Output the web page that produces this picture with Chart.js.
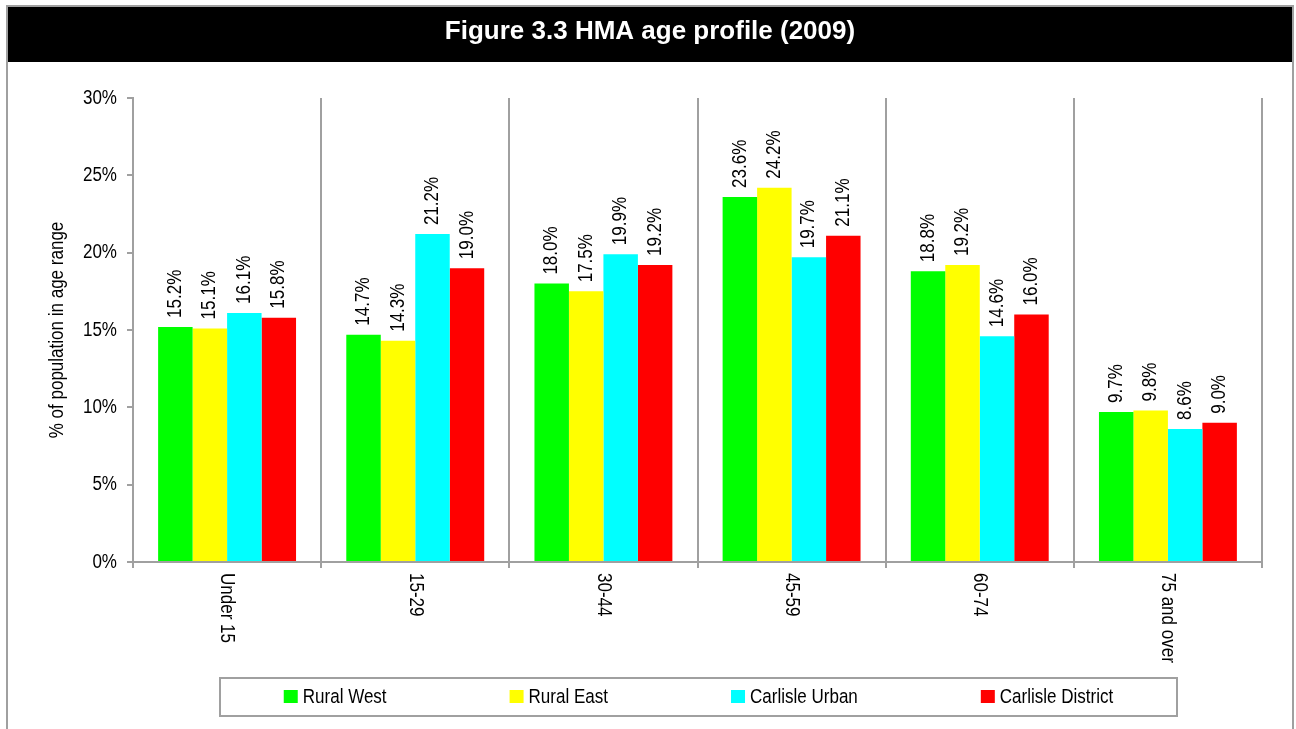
<!DOCTYPE html>
<html>
<head>
<meta charset="utf-8">
<script src="https://cdn.jsdelivr.net/npm/chart.js@4"></script>
<style>
  html, body { margin: 0; padding: 0; background: #fff; }
  canvas { display: block; }
</style>
</head>
<body>
<canvas id="chart" width="1296" height="729"></canvas>
<script>
// age bands and % of population per area (2009)
const categories = ['Under 15', '15-29', '30-44', '45-59', '60-74', '75 and over'];
const ruralWest = [15.2, 14.7, 18.0, 23.6, 18.8, 9.7];
const ruralEast = [15.1, 14.3, 17.5, 24.2, 19.2, 9.8];
const carlisleUrban = [16.1, 21.2, 19.9, 19.7, 14.6, 8.6];
const carlisleDistrict = [15.8, 19.0, 19.2, 21.1, 16.0, 9.0];
const seriesNames = ['Rural West', 'Rural East', 'Carlisle Urban', 'Carlisle District'];
const seriesColors = ['#00ff00', '#ffff00', '#00ffff', '#ff0000'];
const yMin = 0, yMax = 30, yStep = 5;
const titleText = 'Figure 3.3 HMA age profile (2009)';
const yTitle = '% of population in age range';

const GREY = '#a0a0a0';
const FONT = '"Liberation Sans", Arial, sans-serif';
// original text is tall and narrow: big size squeezed sideways
const FSIZE = 20.5;
const SQUEEZE = 0.83;

// draw text squeezed along its own direction
function narrowText(ctx, text, x, y, rot, align) {
  ctx.save();
  ctx.translate(x, y);
  if (rot) ctx.rotate(rot);
  ctx.scale(SQUEEZE, 1);
  ctx.textAlign = align;
  ctx.textBaseline = 'middle';
  ctx.fillText(text, 0, 0);
  ctx.restore();
}

const decorations = {
  id: 'decorations',
  beforeDraw(chart) {
    const ctx = chart.ctx;
    ctx.save();
    ctx.fillStyle = '#fff';
    ctx.fillRect(0, 0, chart.width, chart.height);
    ctx.strokeStyle = GREY;
    ctx.lineWidth = 2;
    ctx.strokeRect(7, 6, 1286, 760);
    ctx.fillStyle = '#000';
    ctx.fillRect(8, 7, 1284, 55);
    ctx.fillStyle = '#fff';
    ctx.font = 'bold 26px ' + FONT;
    ctx.textAlign = 'center';
    ctx.textBaseline = 'alphabetic';
    ctx.fillText(titleText, 650, 39);
    ctx.restore();
  },
  afterDatasetsDraw(chart) {
    // value labels above bars
    const ctx = chart.ctx;
    ctx.save();
    ctx.fillStyle = '#000';
    ctx.font = FSIZE + 'px ' + FONT;
    chart.data.datasets.forEach((ds, di) => {
      chart.getDatasetMeta(di).data.forEach((bar, i) => {
        narrowText(ctx, ds.data[i].toFixed(1) + '%', bar.x, bar.y - 9, -Math.PI / 2, 'left');
      });
    });
    ctx.restore();
  },
  afterDraw(chart) {
    const ctx = chart.ctx;
    const xs = chart.scales.x;
    const ys = chart.scales.y;
    const area = chart.chartArea;
    ctx.save();
    ctx.fillStyle = '#000';
    ctx.font = FSIZE + 'px ' + FONT;

    // y tick labels
    ys.ticks.forEach(t => {
      narrowText(ctx, t.value + '%', area.left - 16, ys.getPixelForValue(t.value), 0, 'right');
    });

    // category labels reading top to bottom
    categories.forEach((c, i) => {
      narrowText(ctx, c, xs.getPixelForValue(i), area.bottom + 11, Math.PI / 2, 'left');
    });

    // y axis title
    narrowText(ctx, yTitle, 57, (area.top + area.bottom) / 2, -Math.PI / 2, 'center');

    // legend box
    const bx = 220, by = 678, bw = 957, bh = 38;
    ctx.strokeStyle = GREY;
    ctx.lineWidth = 2;
    ctx.strokeRect(bx, by, bw, bh);
    const sq = 14, gapText = 5, gapItem = 123;
    const widths = seriesNames.map(n => sq + gapText + ctx.measureText(n).width * SQUEEZE);
    const total = widths.reduce((a, b) => a + b, 0) + gapItem * (seriesNames.length - 1);
    let x = bx + (bw - total) / 2;
    const cy = by + bh / 2;
    seriesNames.forEach((n, i) => {
      ctx.fillStyle = seriesColors[i];
      ctx.fillRect(x, cy - 7, sq, 13);
      ctx.fillStyle = '#000';
      narrowText(ctx, n, x + sq + gapText, cy, 0, 'left');
      x += widths[i] + gapItem;
    });
    ctx.restore();
  }
};

const seriesData = [ruralWest, ruralEast, carlisleUrban, carlisleDistrict];

new Chart(document.getElementById('chart'), {
  type: 'bar',
  data: {
    labels: categories,
    datasets: seriesData.map((d, i) => ({
      label: seriesNames[i],
      data: d,
      backgroundColor: seriesColors[i],
      borderWidth: 0,
      barPercentage: 1,
      categoryPercentage: 0.733
    }))
  },
  options: {
    responsive: false,
    devicePixelRatio: 1,
    animation: false,
    layout: { padding: { left: 0, top: 98, right: 34, bottom: 0 } },
    plugins: {
      legend: { display: false },
      title: { display: false },
      tooltip: { enabled: false }
    },
    scales: {
      x: {
        offset: true,
        grid: {
          offset: true,
          color: GREY,
          lineWidth: 2,
          tickLength: 6,
          drawTicks: true
        },
        border: { color: GREY, width: 2 },
        ticks: { display: false },
        afterFit(scale) { scale.height = 167; }
      },
      y: {
        min: yMin,
        max: yMax,
        grid: {
          drawOnChartArea: false,
          drawTicks: true,
          tickLength: 6,
          color: GREY,
          lineWidth: 2
        },
        border: { color: GREY, width: 2 },
        ticks: {
          stepSize: yStep,
          color: 'transparent',
          font: { family: FONT, size: 17 }
        },
        afterFit(scale) { scale.width = 133; }
      }
    }
  },
  plugins: [decorations]
});
</script>
</body>
</html>
